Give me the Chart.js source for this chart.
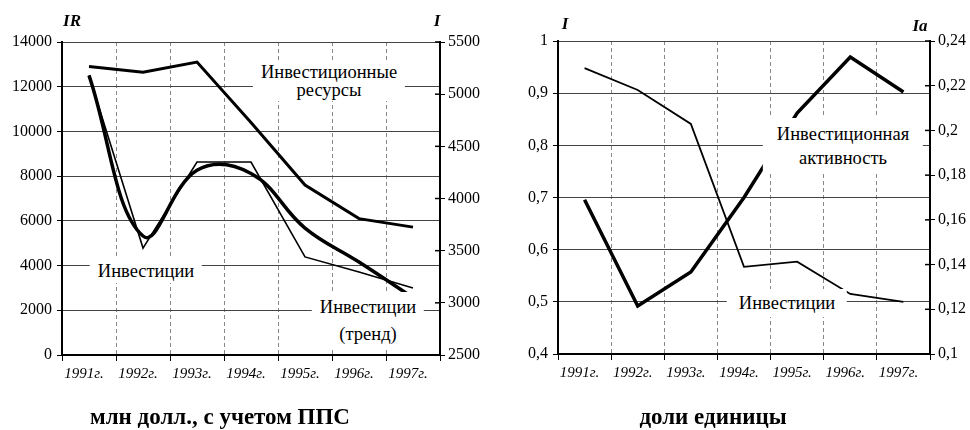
<!DOCTYPE html>
<html>
<head>
<meta charset="UTF-8">
<title>Инвестиции и инвестиционные ресурсы</title>
<script src="https://cdn.jsdelivr.net/npm/chart.js"></script>
<style>
    body {
        margin: 0;
        background: #fff;
        font-family: 'Liberation Serif', 'Times New Roman', serif;
        color: #000;
    }
    #wrap {
        position: relative;
        width: 970px;
        height: 430px;
        overflow: hidden;
    }
    canvas {
        position: absolute;
        top: 0;
    }
    #leftChart { left: 0; }
    #rightChart { left: 485px; }
    .note {
        position: absolute;
        transform: translate(-50%, -50%);
        background: #fff;
        font-size: 18.5px;
        line-height: 20px;
        text-align: center;
        white-space: nowrap;
        padding: 2px 8px;
    }
    .axis-title {
        position: absolute;
        transform: translate(-50%, -50%);
        font-weight: bold;
        font-style: italic;
        font-size: 17px;
    }
    .caption {
        position: absolute;
        transform: translate(-50%, -50%);
        font-weight: bold;
        font-size: 23px;
        white-space: nowrap;
    }
</style>
</head>
<body>
<div id="wrap">
    <canvas id="leftChart" width="485" height="430"></canvas>
    <canvas id="rightChart" width="485" height="430"></canvas>

    <div class="axis-title" style="left:72px; top:21px;">IR</div>
    <div class="axis-title" style="left:437px; top:21px;">I</div>
    <div class="axis-title" style="left:565px; top:24px;">I</div>
    <div class="axis-title" style="left:920px; top:26px;">Ia</div>

    <div class="note" style="left:329px; top:81px; line-height:18px;">Инвестиционные<br>ресурсы</div>
    <div class="note" style="left:146px; top:271px;">Инвестиции</div>
    <div class="note" style="left:368px; top:321px; line-height:27px;">Инвестиции<br>(тренд)</div>

    <div class="note" style="left:843px; top:146px; line-height:24px; padding:4px 14px;">Инвестиционная<br>активность</div>
    <div class="note" style="left:787px; top:303px; padding:4px 12px;">Инвестиции</div>

    <div class="caption" style="left:220px; top:417px;">млн долл., с учетом ППС</div>
    <div class="caption" style="left:713px; top:417px;">доли единицы</div>
</div>

<script>
    // Categories
    const years = ['1991г.', '1992г.', '1993г.', '1994г.', '1995г.', '1996г.', '1997г.'];

    // Left chart: IR on the left axis, I on the right axis
    const resources = [12900, 12650, 13100, 10400, 7600, 6100, 5720];
    const investments = [5180, 3640, 4270, 4240, 3717, 3391, 3050];
    const investTrend = [5180, 3525, 4350, 4350, 3440, 3295, 3142];

    // Right chart: I on the left axis, Ia on the right axis
    const investShare = [0.948, 0.906, 0.841, 0.567, 0.577, 0.515, 0.500];
    const activity = [0.169, 0.1215, 0.1367, 0.170, 0.2078, 0.2328, 0.2172];

    Chart.defaults.font.family = "'Liberation Serif', 'Times New Roman', serif";
    Chart.defaults.font.size = 16;
    Chart.defaults.color = '#000';

    const comma = v => String(Math.round(v * 100) / 100).replace('.', ',');

    // small marks on the inner side of the right axis
    const innerTicks = {
        id: 'innerTicks',
        afterDraw(chart) {
            const s = chart.scales.y2;
            const ctx = chart.ctx;
            ctx.save();
            ctx.strokeStyle = '#000';
            ctx.lineWidth = 1.5;
            s.ticks.forEach(t => {
                const y = s.getPixelForValue(t.value);
                ctx.beginPath();
                ctx.moveTo(s.left - 5, y);
                ctx.lineTo(s.left, y);
                ctx.stroke();
            });
            ctx.restore();
        }
    };

    function xAxis() {
        return {
            type: 'category',
            offset: true,
            afterFit: s => { s.height = 75; },
            grid: { offset: true, color: '#888', lineWidth: 1, tickLength: 6, tickColor: '#000' },
            border: { color: '#000', width: 2, dash: [4, 3] },
            ticks: { font: { style: 'italic', size: 15 }, padding: 4, labelOffset: -5, maxRotation: 0 }
        };
    }

    function lineSet(data, axis, width, tension) {
        return {
            data: data,
            yAxisID: axis,
            borderColor: '#000',
            borderWidth: width,
            pointRadius: 0,
            tension: tension,
            fill: false
        };
    }

    const common = {
        responsive: false,
        animation: false,
        plugins: { legend: { display: false }, tooltip: { enabled: false } }
    };

    // Left chart
    new Chart(document.getElementById('leftChart'), {
        type: 'line',
        data: {
            labels: years,
            datasets: [
                lineSet(resources, 'y', 3, 0),
                lineSet(investTrend, 'y2', 1.6, 0),
                lineSet(investments, 'y2', 3.5, 0.4)
            ]
        },
        options: Object.assign({}, common, {
            layout: { padding: { top: 42, left: 0, right: 0, bottom: 0 } },
            scales: {
                x: xAxis(),
                y: {
                    position: 'left',
                    min: 0, max: 14000,
                    afterFit: s => { s.width = 62; },
                    grid: { color: '#444', tickLength: 5, tickColor: '#000' },
                    border: { color: '#000', width: 2 },
                    ticks: { stepSize: 2000, padding: 5, callback: v => String(v) }
                },
                y2: {
                    position: 'right',
                    min: 2500, max: 5500,
                    afterFit: s => { s.width = 45; },
                    grid: { drawOnChartArea: false, tickLength: 5, tickColor: '#000' },
                    border: { color: '#000', width: 2 },
                    ticks: { stepSize: 500, padding: 3, callback: v => String(v) }
                }
            }
        }),
        plugins: [innerTicks]
    });

    // Right chart
    new Chart(document.getElementById('rightChart'), {
        type: 'line',
        data: {
            labels: years,
            datasets: [
                lineSet(investShare, 'y', 1.8, 0),
                lineSet(activity, 'y2', 3.5, 0)
            ]
        },
        options: Object.assign({}, common, {
            layout: { padding: { top: 41, left: 0, right: 0, bottom: 0 } },
            scales: {
                x: Object.assign(xAxis(), { afterFit: s => { s.height = 76; } }),
                y: {
                    position: 'left',
                    min: 0.4, max: 1,
                    afterFit: s => { s.width = 73; },
                    grid: { color: '#444', tickLength: 5, tickColor: '#000' },
                    border: { color: '#000', width: 2 },
                    ticks: { stepSize: 0.1, padding: 5, callback: v => comma(v) }
                },
                y2: {
                    position: 'right',
                    min: 0.1, max: 0.24,
                    afterFit: s => { s.width = 40; },
                    grid: { drawOnChartArea: false, tickLength: 5, tickColor: '#000' },
                    border: { color: '#000', width: 2 },
                    ticks: { stepSize: 0.02, padding: 3, callback: v => comma(v) }
                }
            }
        }),
        plugins: [innerTicks]
    });
</script>
</body>
</html>
